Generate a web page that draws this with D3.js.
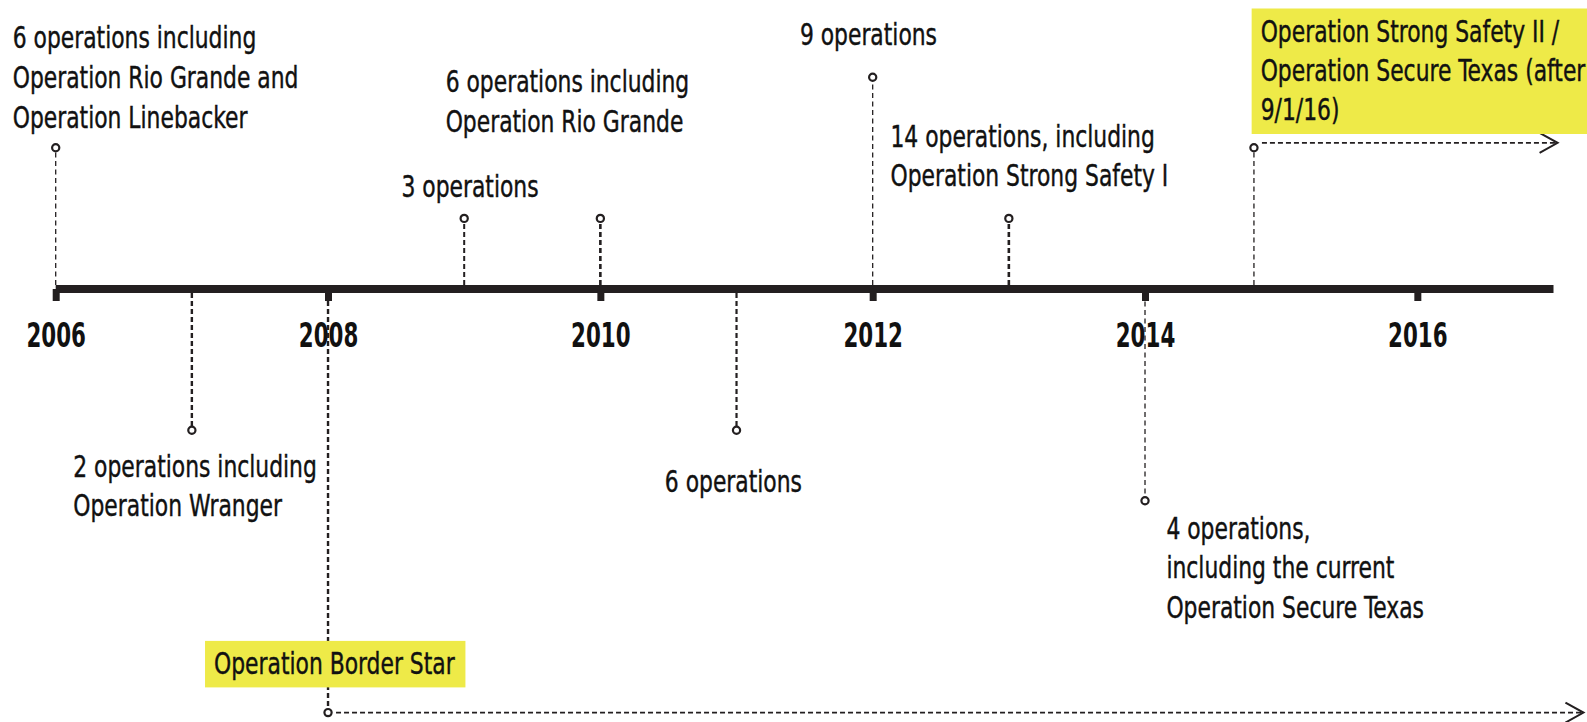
<!DOCTYPE html>
<html>
<head>
<meta charset="utf-8">
<script src="https://cdn.jsdelivr.net/npm/d3@7"></script>
<style>
  body { margin: 0; background: #fff; }
  svg text { font-family: "DejaVu Sans Condensed", "DejaVu Sans", sans-serif; fill: #111; }
  .label text { stroke: #111; stroke-width: 0.4; }
</style>
</head>
<body>
<svg id="chart1"></svg>
<script>
let w = 1587;
let h = 722;

// timeline events
let eventYears = [2006, 2007, 2008, 2009, 2010, 2011, 2012, 2013, 2014, 2014.8];
let stemLevels = [2, -2, -6, 1, 1, -2, 3, 1, -3, 2];
let eventLabels = [
  ["6 operations including", "Operation Rio Grande and", "Operation Linebacker"],
  ["2 operations including", "Operation Wranger"],
  ["Operation Border Star"],
  ["3 operations"],
  ["6 operations including", "Operation Rio Grande"],
  ["6 operations"],
  ["9 operations"],
  ["14 operations, including", "Operation Strong Safety I"],
  ["4 operations,", "including the current", "Operation Secure Texas"],
  ["Operation Strong Safety II /", "Operation Secure Texas (after", "9/1/16)"]
];
let ongoing = [false, false, true, false, false, false, false, false, false, true];
let tickYears = [2006, 2008, 2010, 2012, 2014, 2016];

// label placement relative to the dot (left edge, first baseline, line step)
let layout = [
  {dx: -43, dy: -99.6, lh: 40, sw: 1.3},
  {dx: -118.6, dy: 47, lh: 38.5, sw: 2.4},
  {dx: -114, dy: -38.7, lh: 40, sw: 2.4},
  {dx: -62.7, dy: -21.5, lh: 40, sw: 2},
  {dx: -154.7, dy: -126.5, lh: 40, sw: 2.6},
  {dx: -71.7, dy: 62, lh: 40, sw: 2.2},
  {dx: -72.8, dy: -32.5, lh: 40, sw: 1.3},
  {dx: -118.4, dy: -71.9, lh: 39.4, sw: 2.6},
  {dx: 21.4, dy: 37.7, lh: 40, sw: 1.3},
  {dx: 6.7, dy: -106.3, lh: 39.5, sw: 1.3}
];

let axisY = 289;
let dark = '#231f20';
let yellow = '#eeea48';
let squeeze = 0.81;     // narrow the font to a condensed look
let yearSqueeze = 0.7;

function initGraph() {
  let dataset = eventYears.map((d, i) => ({
    year: d,
    level: stemLevels[i],
    lines: eventLabels[i],
    ongoing: ongoing[i],
    pos: layout[i]
  }));

  let svg = d3.select('#chart1')
    .attr('width', w)
    .attr('height', h);

  let xScale = d3.scaleLinear()
    .domain([2006, 2017])
    .range([55.7, 1553.5]);

  let yScale = d3.scaleLinear()
    .domain([-6, 3])
    .range([axisY + 6 * 70.6, axisY - 3 * 70.6]);

  // axis
  let xAxis = d3.axisBottom(xScale)
    .tickValues(tickYears)
    .tickFormat(d3.format('d'))
    .tickSizeInner(12)
    .tickSizeOuter(0);

  let xAxisGroup = svg.append('g')
    .attr('class', 'axis')
    .attr('transform', `translate(0, ${axisY})`)
    .call(xAxis);

  xAxisGroup.select('.domain')
    .attr('d', `M${xScale(2006)},0H${xScale(2017)}`)
    .attr('stroke', dark)
    .attr('stroke-width', 8);
  xAxisGroup.selectAll('.tick line')
    .attr('stroke', dark)
    .attr('stroke-width', 7);
  xAxisGroup.selectAll('.tick text')
    .attr('y', 58)
    .attr('dy', null)
    .attr('transform', `scale(${yearSqueeze},1)`)
    .style('font-size', '34px')
    .style('font-weight', 'bold')
    .style('fill', '#111');

  // stems
  svg.selectAll('line.stem')
    .data(dataset)
    .enter()
    .append('line')
    .attr('class', 'stem')
    .attr('x1', d => xScale(d.year))
    .attr('x2', d => xScale(d.year))
    .attr('y1', d => d.level > 0 ? axisY - 4 : axisY + 4)
    .attr('y2', d => yScale(d.level))
    .attr('stroke', dark)
    .attr('stroke-width', d => d.pos.sw)
    .attr('stroke-dasharray', d => d.pos.sw > 1.5 ? '5,3' : '5,3.5');

  // ongoing arrows
  let arrows = dataset.filter(d => d.ongoing);
  arrows.forEach(d => {
    let x0 = xScale(d.year);
    let y0 = yScale(d.level) + (d.level > 0 ? -5 : 0);
    let x1 = d.level > 0 ? xScale(2017.03) : xScale(2017.22);
    svg.append('line')
      .attr('x1', x0 + 8)
      .attr('x2', x1 - 2)
      .attr('y1', y0)
      .attr('y2', y0)
      .attr('stroke', dark)
      .attr('stroke-width', 1.8)
      .attr('stroke-dasharray', '5,3');
    svg.append('path')
      .attr('d', `M${x1 - 18},${y0 - 10}L${x1},${y0}L${x1 - 18},${y0 + 10}`)
      .attr('fill', 'none')
      .attr('stroke', dark)
      .attr('stroke-width', 2);
  });

  // labels
  let labelGroups = svg.selectAll('g.label')
    .data(dataset)
    .enter()
    .append('g')
    .attr('class', 'label');

  labelGroups.each(function(d) {
    let g = d3.select(this);
    let x = xScale(d.year) + d.pos.dx;
    let y = yScale(d.level) + d.pos.dy;
    let box = g.append('rect');
    let txt = g.append('text')
      .attr('transform', `translate(${x},${y}) scale(${squeeze},1)`)
      .style('font-size', '30px');
    d.lines.forEach((line, i) => {
      txt.append('tspan')
        .attr('x', 0)
        .attr('y', i * d.pos.lh)
        .text(line);
    });
    if (d.ongoing) {
      let bb = txt.node().getBBox();
      let top = y - 33;
      let bottom = y + (d.lines.length - 1) * d.pos.lh + 13.5;
      let right = d.level > 0 ? w : x + bb.width * squeeze + 10;
      box.attr('x', x - 9)
        .attr('y', top)
        .attr('width', right - (x - 9))
        .attr('height', bottom - top)
        .attr('fill', yellow);
    } else {
      box.remove();
    }
  });

  // dots
  svg.selectAll('circle')
    .data(dataset)
    .enter()
    .append('circle')
    .attr('cx', d => xScale(d.year))
    .attr('cy', d => yScale(d.level))
    .attr('r', 3.6)
    .attr('fill', '#fff')
    .attr('stroke', dark)
    .attr('stroke-width', 2.2);
}

window.onload = initGraph;
</script>
</body>
</html>
